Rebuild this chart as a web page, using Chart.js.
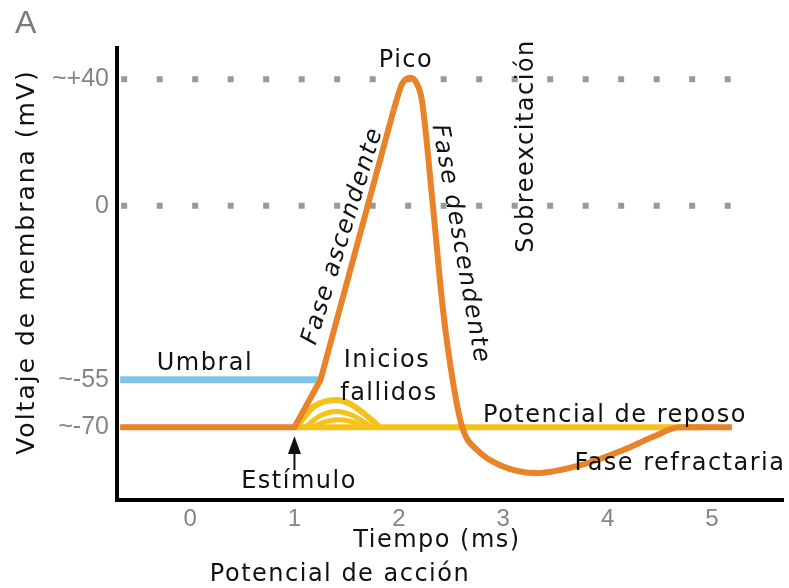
<!DOCTYPE html>
<html>
<head>
<meta charset="utf-8">
<title>Potencial de acción</title>
<script src="https://cdn.jsdelivr.net/npm/chart.js@4.4.1/dist/chart.umd.min.js"></script>
<style>
  html, body { margin: 0; padding: 0; background: #fff; }
  canvas { display: block; }
</style>
</head>
<body>
<canvas id="apChart" width="789" height="588"></canvas>
<script>
// ejes
const xTicks = [0, 1, 2, 3, 4, 5];
const yTickValues = [-70, -55, 0, 40];
const yTickLabels = ['~-70', '~-55', '0', '~+40'];

// potencial de acción: tramo recto (reposo, pie, fase ascendente)
const riseTime = [-0.67, 1.0, 1.25, 1.95];
const riseVolt = [-70, -70, -55, 30.3];

// pico, fase descendente, hiperpolarización y vuelta al reposo
const fallTime = [1.95, 2.03, 2.11, 2.17, 2.22, 2.33, 2.42, 2.52, 2.61, 2.75, 2.97, 3.32, 3.74, 4.15, 4.43, 4.69, 5.19];
const fallVolt = [30.3, 38.5, 40.5, 38.8, 33.5, -1.3, -32, -56, -70.3, -77.2, -82, -84.5, -82, -77.2, -73.1, -70, -70];

// umbral
const thresholdTime = [-0.67, 1.25];
const thresholdVolt = [-55, -55];

// potencial de reposo (amarillo)
const restTime = [1.0, 4.9];
const restVolt = [-70, -70];

// inicios fallidos
const failOuterTime = [1.02, 1.18, 1.4, 1.52, 1.66, 1.82];
const failOuterVolt = [-70, -63.6, -61.4, -62.4, -65.5, -70];
const failMidTime = [1.1, 1.25, 1.4, 1.56, 1.74];
const failMidVolt = [-70, -66.3, -65, -66.3, -70];
const failInnerTime = [1.16, 1.3, 1.42, 1.55, 1.68];
const failInnerVolt = [-70, -68.2, -67.6, -68.2, -70];

// líneas de referencia punteadas (+40 y 0)
const refLevels = [40, 0];
const refSpan = [-0.66, 5.2];

const stimulusTime = 1.0;

const orange = '#e8832a';
const yellow = '#f4c21b';
const blue = '#80c4ea';

function pts(xs, ys) {
  return xs.map((t, i) => ({ x: t, y: ys[i] }));
}

const datasets = [
  { data: pts(riseTime, riseVolt), borderColor: orange, borderWidth: 6, tension: 0, order: 1, borderJoinStyle: 'round' },
  { data: pts(fallTime, fallVolt), borderColor: orange, borderWidth: 6, cubicInterpolationMode: 'monotone', order: 1 },
  { data: pts(failOuterTime, failOuterVolt), borderColor: yellow, borderWidth: 6, cubicInterpolationMode: 'monotone', order: 2 },
  { data: pts(failMidTime, failMidVolt), borderColor: yellow, borderWidth: 5, cubicInterpolationMode: 'monotone', order: 2 },
  { data: pts(failInnerTime, failInnerVolt), borderColor: yellow, borderWidth: 5, cubicInterpolationMode: 'monotone', order: 2 },
  { data: pts(restTime, restVolt), borderColor: yellow, borderWidth: 6, order: 3 },
  { data: pts(thresholdTime, thresholdVolt), borderColor: blue, borderWidth: 7, order: 4 }
];
refLevels.forEach(v => {
  datasets.push({
    data: pts(refSpan, [v, v]),
    borderColor: '#999999',
    borderWidth: 6,
    borderDash: [6, 29.5],
    borderCapStyle: 'butt',
    order: 5
  });
});

function drawLabel(ctx, str, px, py, o) {
  o = o || {};
  ctx.save();
  ctx.translate(px, py);
  if (o.angle) ctx.rotate(o.angle * Math.PI / 180);
  ctx.font = o.font || '24px "DejaVu Sans"';
  ctx.fillStyle = o.color || '#111';
  ctx.letterSpacing = (o.spacing !== undefined ? o.spacing : 1.5) + 'px';
  ctx.textAlign = o.align || 'center';
  ctx.textBaseline = o.baseline || 'alphabetic';
  ctx.fillText(str, 0, 0);
  ctx.restore();
}

const labelsPlugin = {
  id: 'apLabels',
  afterDraw(chart) {
    const ctx = chart.ctx;
    const xs = chart.scales.x;
    const italic = 'italic 24px "DejaVu Sans"';

    drawLabel(ctx, 'A', 15, 33, { font: '32px "Liberation Sans"', color: '#7a7a7a', align: 'left', spacing: 0 });
    drawLabel(ctx, 'Pico', 406, 67);
    drawLabel(ctx, 'Umbral', 205, 370);
    drawLabel(ctx, 'Inicios', 387, 367);
    drawLabel(ctx, 'fallidos', 389, 400);
    drawLabel(ctx, 'Potencial de reposo', 615, 422);
    drawLabel(ctx, 'Fase refractaria', 680, 470);
    drawLabel(ctx, 'Estímulo', 299, 488);
    drawLabel(ctx, 'Tiempo (ms)', 437, 547);
    drawLabel(ctx, 'Potencial de acción', 340, 581);

    drawLabel(ctx, 'Fase ascendente', 343, 236, { angle: -72.8, font: italic, baseline: 'middle' });
    drawLabel(ctx, 'Fase descendente', 460, 244, { angle: 79.8, font: italic, baseline: 'middle' });
    drawLabel(ctx, 'Sobreexcitación', 527, 146, { angle: -90, baseline: 'middle' });
    drawLabel(ctx, 'Voltaje de membrana (mV)', 27, 262, { angle: -90, font: '25px "DejaVu Sans"', spacing: 2, baseline: 'middle' });

    // flecha del estímulo
    const ax = xs.getPixelForValue(stimulusTime);
    ctx.save();
    ctx.fillStyle = '#111';
    ctx.strokeStyle = '#111';
    ctx.lineWidth = 2;
    ctx.beginPath();
    ctx.moveTo(ax, 450);
    ctx.lineTo(ax, 470);
    ctx.stroke();
    ctx.beginPath();
    ctx.moveTo(ax, 436);
    ctx.lineTo(ax - 6.5, 454);
    ctx.lineTo(ax + 6.5, 454);
    ctx.closePath();
    ctx.fill();
    ctx.restore();
  }
};

const ctx = document.getElementById('apChart').getContext('2d');
new Chart(ctx, {
  type: 'line',
  data: { datasets: datasets },
  options: {
    responsive: false,
    animation: false,
    devicePixelRatio: 1,
    elements: { point: { radius: 0 } },
    layout: { padding: { left: 0, right: 6, top: 48, bottom: 0 } },
    plugins: { legend: { display: false }, tooltip: { enabled: false } },
    scales: {
      x: {
        type: 'linear',
        min: -0.70,
        max: 5.68,
        grid: { display: false, drawTicks: false },
        border: { display: true, color: '#000', width: 4 },
        afterBuildTicks: s => { s.ticks = xTicks.map(v => ({ value: v })); },
        afterFit: s => { s.height = 88; },
        ticks: {
          color: '#858585',
          padding: 5,
          font: { family: 'Liberation Sans', size: 24 },
          maxRotation: 0,
          callback: v => String(v)
        }
      },
      y: {
        type: 'linear',
        min: -93,
        max: 49.9,
        grid: { display: false, drawTicks: false },
        border: { display: true, color: '#000', width: 4 },
        afterBuildTicks: s => { s.ticks = yTickValues.map(v => ({ value: v })); },
        afterFit: s => { s.width = 117; },
        ticks: {
          color: '#858585',
          padding: 8,
          font: { family: 'Liberation Sans', size: 25 },
          callback: v => yTickLabels[yTickValues.indexOf(v)]
        }
      }
    }
  },
  plugins: [labelsPlugin]
});
</script>
</body>
</html>
